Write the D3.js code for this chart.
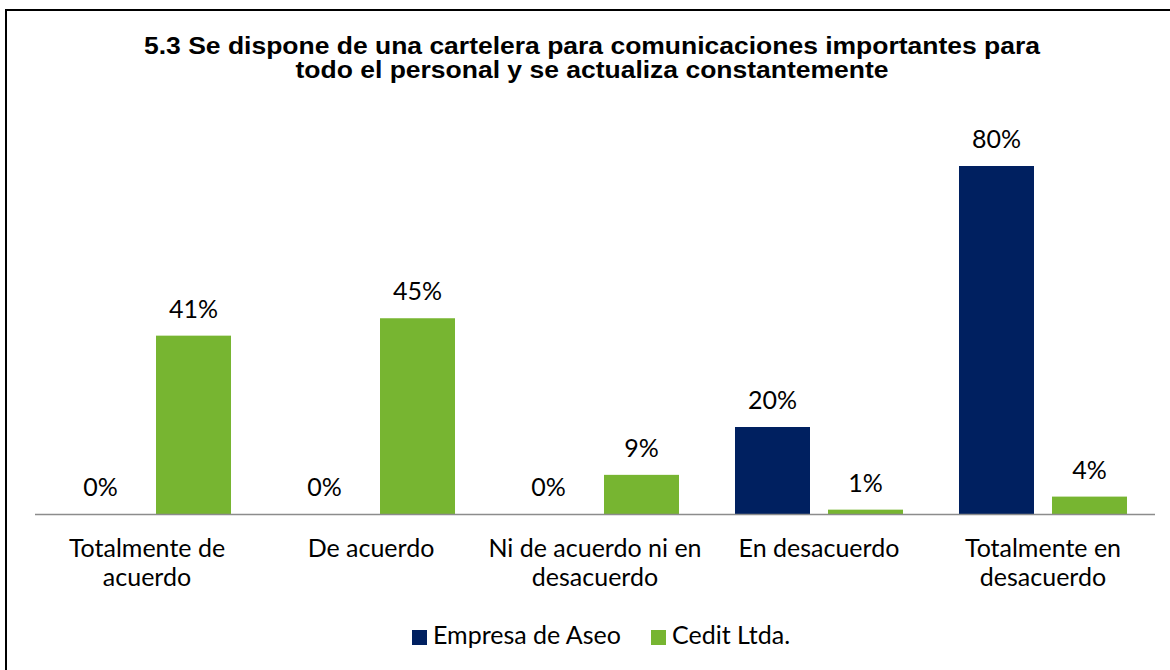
<!DOCTYPE html>
<html>
<head>
    <meta charset="utf-8">
    <script src="https://d3js.org/d3.v7.min.js"></script>
    <style>
        body {
            margin: 0px;
            padding: 0px;
            background: #ffffff;
        }

        .title {
            font-family: 'Liberation Sans', Arial, sans-serif;
            font-weight: bold;
            font-size: 23px;
            fill: #000000;
        }

        .lbl {
            font-family: Lato, 'Noto Sans', sans-serif;
            font-size: 25px;
            fill: #000000;
        }
    </style>
    <title>5.3 Cartelera</title>
</head>

<body>
    <div id="chart"></div>

    <script>
        // data
        var categories = ["Totalmente de acuerdo", "De acuerdo", "Ni de acuerdo ni en desacuerdo",
                          "En desacuerdo", "Totalmente en desacuerdo"];
        var categoryLines = [["Totalmente de", "acuerdo"], ["De acuerdo"], ["Ni de acuerdo ni en", "desacuerdo"],
                             ["En desacuerdo"], ["Totalmente en", "desacuerdo"]];
        var seriesNames = ["Empresa de Aseo", "Cedit Ltda."];
        var empresaValues = [0, 0, 0, 20, 80];
        var ceditValues = [41, 45, 9, 1, 4];
        var titleLines = ["5.3 Se dispone de una cartelera para comunicaciones importantes para",
                          "todo el personal y se actualiza constantemente"];

        var colors = ["#002060", "#77b531"];
        var width = 1170, height = 670;

        var svg = d3.select("#chart").append("svg")
            .attr("width", width)
            .attr("height", height);

        //frame (only left and top edges are visible in the picture)
        svg.append("path")
            .attr("d", "M6,670 L6,10 L1170,10")
            .attr("fill", "none")
            .attr("stroke", "#000000")
            .attr("stroke-width", 2);

        //title - the original is a bit wider than a plain Arial run
        var titles = svg.selectAll("text.title")
            .data(titleLines)
            .enter().append("text")
            .attr("class", "title")
            .attr("x", 592)
            .attr("y", function (d, i) { return 54 + i * 24; })
            .attr("text-anchor", "middle")
            .text(function (d) { return d; });

        var stretch = 896 / titles.node().getComputedTextLength();
        titles.each(function () {
            d3.select(this)
                .attr("textLength", this.getComputedTextLength() * stretch)
                .attr("lengthAdjust", "spacingAndGlyphs");
        });

        //scales
        var x0 = d3.scaleBand()
            .domain(categories)
            .range([35, 1155])
            .padding(0);

        var x1 = d3.scaleBand()
            .domain(seriesNames)
            .range([0, x0.bandwidth()])
            .paddingInner(0.1935)
            .paddingOuter(0.301);

        var y = d3.scaleLinear()
            .domain([0, 80])
            .range([514, 166]);

        //table for the bars
        var rows = [];
        categories.forEach(function (c, i) {
            rows.push({ cat: c, series: seriesNames[0], value: empresaValues[i] });
            rows.push({ cat: c, series: seriesNames[1], value: ceditValues[i] });
        });

        svg.selectAll("rect.bar")
            .data(rows)
            .enter().append("rect")
            .attr("class", "bar")
            .attr("x", function (d) { return x0(d.cat) + x1(d.series); })
            .attr("y", function (d) { return y(d.value); })
            .attr("width", x1.bandwidth())
            .attr("height", function (d) { return y(0) - y(d.value); })
            .style("fill", function (d) { return colors[seriesNames.indexOf(d.series)]; });

        //value labels
        svg.selectAll("text.val")
            .data(rows)
            .enter().append("text")
            .attr("class", "lbl")
            .attr("x", function (d) { return x0(d.cat) + x1(d.series) + x1.bandwidth() / 2; })
            .attr("y", function (d) { return y(d.value) - 18; })
            .attr("text-anchor", "middle")
            .text(function (d) { return d.value + "%"; });

        //category axis line
        svg.append("line")
            .attr("x1", x0.range()[0])
            .attr("x2", x0.range()[1])
            .attr("y1", y(0) + 0.5)
            .attr("y2", y(0) + 0.5)
            .attr("stroke", "#8c8c8c")
            .attr("stroke-width", 1.5);

        //category labels
        var catText = svg.selectAll("text.cat")
            .data(categories)
            .enter().append("text")
            .attr("class", "lbl")
            .attr("text-anchor", "middle");

        catText.each(function (d, i) {
            var t = d3.select(this);
            categoryLines[i].forEach(function (line, j) {
                t.append("tspan")
                    .attr("x", x0(d) + x0.bandwidth() / 2)
                    .attr("y", 557 + j * 29)
                    .text(line);
            });
        });

        //legend
        var legendX = [412, 651];
        var legend = svg.selectAll("g.legend")
            .data(seriesNames)
            .enter().append("g")
            .attr("transform", function (d, i) { return "translate(" + legendX[i] + ",630)"; });

        legend.append("rect")
            .attr("width", 15)
            .attr("height", 15)
            .style("fill", function (d, i) { return colors[i]; });

        legend.append("text")
            .attr("class", "lbl")
            .attr("x", 21)
            .attr("y", 14)
            .text(function (d) { return d; });
    </script>
</body>
</html>
